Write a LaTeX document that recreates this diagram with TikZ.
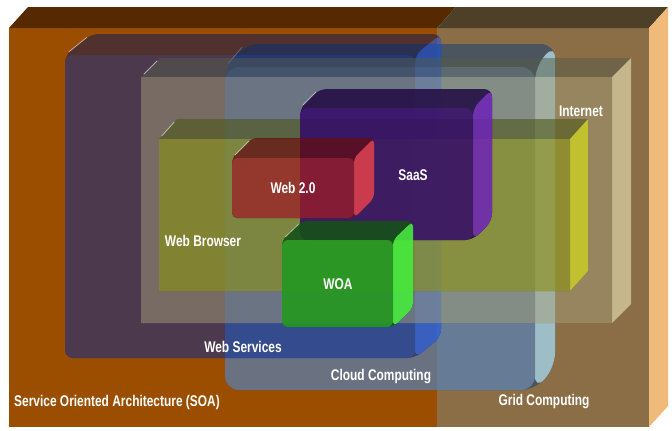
\documentclass[tikz,border=0pt]{standalone}
\usepackage{fontspec}
\setmainfont{Liberation Sans}
\usepackage{graphicx}
\definecolor{soaF}{RGB}{156,78,0}
\definecolor{soaT}{RGB}{87,41,0}
\definecolor{grdF}{RGB}{140,110,70}
\definecolor{grdT}{RGB}{78,64,40}
\definecolor{grdR}{RGB}{240,186,122}
\definecolor{cldF}{RGB}{86,129,183}
\definecolor{cldT}{RGB}{46,75,106}
\definecolor{cldR}{RGB}{166,225,255}
\definecolor{wsF}{RGB}{0,38,156}
\definecolor{wsT}{RGB}{6,22,90}
\definecolor{wsR}{RGB}{10,80,255}
\definecolor{intF}{RGB}{162,157,121}
\definecolor{intT}{RGB}{84,91,75}
\definecolor{intR}{RGB}{254,255,211}
\definecolor{wbF}{RGB}{138,146,20}
\definecolor{wbT}{RGB}{78,88,25}
\definecolor{wbR}{RGB}{221,233,17}
\definecolor{saF}{RGB}{52,10,104}
\definecolor{saT}{RGB}{32,10,66}
\definecolor{saR}{RGB}{108,34,183}
\definecolor{w2F}{RGB}{156,29,38}
\definecolor{w2T}{RGB}{98,13,22}
\definecolor{w2R}{RGB}{250,72,71}
\definecolor{woF}{RGB}{35,152,32}
\definecolor{woT}{RGB}{22,80,25}
\definecolor{woR}{RGB}{70,235,60}
\tikzset{
  lbl/.style={text=white, font=\bfseries\fontsize{15.5}{16}\selectfont, inner sep=0pt},
  hilite/.style={white, opacity=0.55, line width=0.8pt}
}
\newcommand\lbltext[1]{\scalebox{0.77}[1]{#1}}
\def\cubeop{1}
\def\cuberad{0pt}
% #1 x1, #2 y1, #3 x2, #4 y2, #5 dx, #6 dy, #7 front, #8 top, #9 right
\newcommand\cube[9]{%
  \begin{scope}[transparency group, opacity=\cubeop]
    \fill[#8, rounded corners=\cuberad] (#1,#4) -- (#1,#2) -- ({#1+#5},{#2-#6}) -- ({#3+#5},{#2-#6}) -- ({#3+#5},{#4-#6}) -- (#3,#4) -- cycle;
    \fill[#9, rounded corners=\cuberad] (#3,#2) -- ({#3+#5},{#2-#6}) -- ({#3+#5},{#4-#6}) -- (#3,#4) -- cycle;
    \fill[#7, rounded corners=\cuberad] (#1,#2) rectangle (#3,#4);
  \end{scope}
  \draw[hilite] ({#1+0.15*#5},{#2-0.15*#6}) -- ({#1+0.85*#5},{#2-0.85*#6});
}
\begin{document}
\begin{tikzpicture}[x=1pt, y=-1pt]
\useasboundingbox (0,0) rectangle (672,431);
\fill[white] (0,0) rectangle (672,431);
% SOA / Grid base block
\fill[soaF] (9,28) rectangle (437,427);
\fill[grdF] (437,28) rectangle (649,427);
\fill[soaT] (9,28) -- (28,7) -- (456,7) -- (437,28) -- cycle;
\fill[grdT] (437,28) -- (456,7) -- (668,7) -- (649,28) -- cycle;
\fill[grdR] (649,28) -- (668,7) -- (668,406) -- (649,427) -- cycle;
% Cloud Computing
\def\cubeop{0.7}\def\cuberad{14pt}
\cube{225}{67}{535}{390}{20}{23}{cldF}{cldT}{cldR}
% Web Services
\def\cubeop{0.5}\def\cuberad{8pt}
\cube{65}{55}{415}{358}{26}{21}{wsF}{wsT}{wsR}
% Internet
\def\cubeop{0.5}\def\cuberad{0.5pt}
\cube{141}{77}{612}{323}{19}{19}{intF}{intT}{intR}
% Web Browser
\def\cubeop{0.6}\def\cuberad{0.5pt}
\cube{159}{139}{570}{291}{18}{20}{wbF}{wbT}{wbR}
% SaaS
\def\cubeop{0.85}\def\cuberad{8pt}
\cube{300}{108}{473}{240}{19}{19}{saF}{saT}{saR}
% Web 2.0
\def\cubeop{0.75}\def\cuberad{5pt}
\cube{232}{158}{354}{218}{20}{20}{w2F}{w2T}{w2R}
% WOA
\def\cubeop{0.9}\def\cuberad{6pt}
\cube{282}{240}{393}{327}{20}{19}{woF}{woT}{woR}
% Labels
\node[lbl] (soa) at (117,402) {\lbltext{Service Oriented Architecture (SOA)}};
\node[lbl] (grid) at (544,402) {\lbltext{Grid Computing}};
\node[lbl] (cloud) at (381,377) {\lbltext{Cloud Computing}};
\node[lbl] (ws) at (243,347) {\lbltext{Web Services}};
\node[lbl] (woa) at (338,284) {\lbltext{WOA}};
\node[lbl] (web2) at (293,188) {\lbltext{Web 2.0}};
\node[lbl] (saas) at (413,175) {\lbltext{SaaS}};
\node[lbl] (wb) at (203,241) {\lbltext{Web Browser}};
\node[lbl] (inet) at (581,111) {\lbltext{Internet}};
\end{tikzpicture}
\end{document}
